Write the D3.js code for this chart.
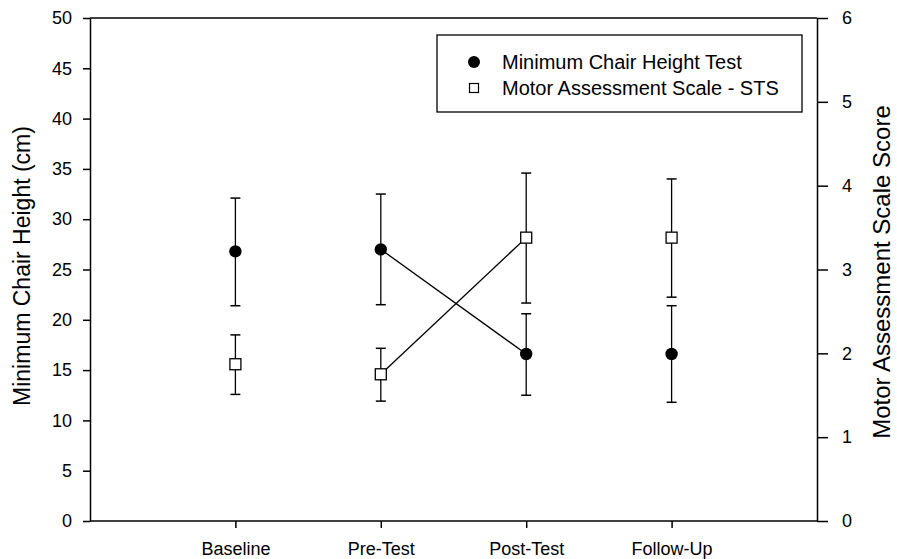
<!DOCTYPE html>
<html>
<head>
<meta charset="utf-8">
<script src="https://cdn.jsdelivr.net/npm/d3@7"></script>
<style>
  body { margin: 0; background: #fff; }
  text { font-family: "Liberation Sans", Arial, Helvetica, sans-serif; fill: #000; }
</style>
</head>
<body>
<script>
// categories along the x axis
var phases = ["Baseline", "Pre-Test", "Post-Test", "Follow-Up"];

// minimum chair height test (cm), left axis
var chairMean = [26.8, 27.0, 16.6, 16.6];
var chairHigh = [32.1, 32.5, 20.6, 21.4];
var chairLow  = [21.4, 21.5, 12.5, 11.8];

// motor assessment scale - STS score, right axis
var masMean = [1.87, 1.75, 3.38, 3.38];
var masHigh = [2.22, 2.06, 4.15, 4.08];
var masLow  = [1.51, 1.43, 2.60, 2.67];

// tick values
var leftTicks = [0, 5, 10, 15, 20, 25, 30, 35, 40, 45, 50];
var rightTicks = [0, 1, 2, 3, 4, 5, 6];

// only pre-test and post-test are joined by a line
var joined = ["Pre-Test", "Post-Test"];

var W = 897, H = 559;
// plot box edges (avoid the name "top", it is window.top)
var plotL = 90, plotR = 817, plotT = 18, plotB = 521;

var svg = d3.select("body").append("svg")
    .attr("width", W)
    .attr("height", H);

var x = d3.scalePoint().domain(phases).range([plotL, plotR]).padding(1);
var yL = d3.scaleLinear().domain([0, 50]).range([plotB, plotT]);
var yR = d3.scaleLinear().domain([0, 6]).range([plotB, plotT]);

// frame line on top
svg.append("line")
    .attr("x1", plotL).attr("x2", plotR).attr("y1", plotT).attr("y2", plotT)
    .attr("stroke", "#000").attr("stroke-width", 1.5);

// left axis
var axL = svg.append("g")
    .attr("transform", "translate(" + plotL + ",0)")
    .call(d3.axisLeft(yL).tickValues(leftTicks).tickSize(7).tickPadding(11).tickSizeOuter(0));
// right axis
var axR = svg.append("g")
    .attr("transform", "translate(" + plotR + ",0)")
    .call(d3.axisRight(yR).tickValues(rightTicks).tickFormat(d3.format("d"))
      .tickSize(11).tickPadding(14).tickSizeOuter(0));
// bottom axis
var axB = svg.append("g")
    .attr("transform", "translate(0," + plotB + ")")
    .call(d3.axisBottom(x).tickSize(7).tickPadding(14).tickSizeOuter(0));

[axL, axR, axB].forEach(function(g){
  g.selectAll(".domain").attr("stroke", "#000").attr("stroke-width", 1.5);
  g.selectAll(".tick line").attr("stroke", "#000").attr("stroke-width", 1.5);
  g.selectAll(".tick text").style("font-size", "18px")
    .style("font-family", "'Liberation Sans', Arial, sans-serif");
});
axB.select(".domain").attr("d", "M" + plotL + ",0H" + plotR);

// axis titles
svg.append("text")
    .attr("transform", "translate(22,266) rotate(-90)")
    .attr("text-anchor", "middle")
    .attr("dy", "0.35em")
    .style("font-size", "23px")
    .text("Minimum Chair Height (cm)");

svg.append("text")
    .attr("transform", "translate(882,272) rotate(-90)")
    .attr("text-anchor", "middle")
    .attr("dy", "0.35em")
    .style("font-size", "24px")
    .text("Motor Assessment Scale Score");

// connecting lines
var chairPts = phases.map(function(p, i){ return {p: p, v: chairMean[i]}; })
    .filter(function(d){ return joined.indexOf(d.p) >= 0; });
var masPts = phases.map(function(p, i){ return {p: p, v: masMean[i]}; })
    .filter(function(d){ return joined.indexOf(d.p) >= 0; });

svg.append("path")
    .attr("d", d3.line().x(function(d){ return x(d.p); }).y(function(d){ return yL(d.v); })(chairPts))
    .attr("fill", "none").attr("stroke", "#000").attr("stroke-width", 1.3);
svg.append("path")
    .attr("d", d3.line().x(function(d){ return x(d.p); }).y(function(d){ return yR(d.v); })(masPts))
    .attr("fill", "none").attr("stroke", "#000").attr("stroke-width", 1.3);

// error bars
function errorBars(hi, lo, y) {
  var g = svg.append("g");
  phases.forEach(function(p, i){
    var cx = x(p);
    g.append("line").attr("x1", cx).attr("x2", cx)
      .attr("y1", y(hi[i])).attr("y2", y(lo[i]))
      .attr("stroke", "#000").attr("stroke-width", 1.3);
    [hi[i], lo[i]].forEach(function(v){
      g.append("line").attr("x1", cx - 5).attr("x2", cx + 5)
        .attr("y1", y(v)).attr("y2", y(v))
        .attr("stroke", "#000").attr("stroke-width", 1.5);
    });
  });
}
errorBars(chairHigh, chairLow, yL);
errorBars(masHigh, masLow, yR);

// markers
svg.append("g").selectAll("circle")
    .data(chairMean)
    .enter()
    .append("circle")
    .attr("cx", function(d, i){ return x(phases[i]); })
    .attr("cy", function(d){ return yL(d); })
    .attr("r", 6.2)
    .attr("fill", "#000");

svg.append("g").selectAll("rect")
    .data(masMean)
    .enter()
    .append("rect")
    .attr("x", function(d, i){ return x(phases[i]) - 5.5; })
    .attr("y", function(d){ return yR(d) - 5.5; })
    .attr("width", 11)
    .attr("height", 11)
    .attr("fill", "#fff")
    .attr("stroke", "#000")
    .attr("stroke-width", 1.3);

// legend
var lg = svg.append("g").attr("transform", "translate(437,35)");
lg.append("rect")
    .attr("width", 365).attr("height", 77)
    .attr("fill", "#fff").attr("stroke", "#000").attr("stroke-width", 1.3);
lg.append("circle").attr("cx", 37).attr("cy", 27).attr("r", 6).attr("fill", "#000");
lg.append("rect").attr("x", 32.5).attr("y", 48.5).attr("width", 9).attr("height", 9)
    .attr("fill", "#fff").attr("stroke", "#000").attr("stroke-width", 1.2);
lg.append("text").attr("x", 65).attr("y", 27).attr("dy", "0.35em")
    .style("font-size", "20px").text("Minimum Chair Height Test");
lg.append("text").attr("x", 65).attr("y", 53).attr("dy", "0.35em")
    .style("font-size", "20px").text("Motor Assessment Scale - STS");
</script>
</body>
</html>
